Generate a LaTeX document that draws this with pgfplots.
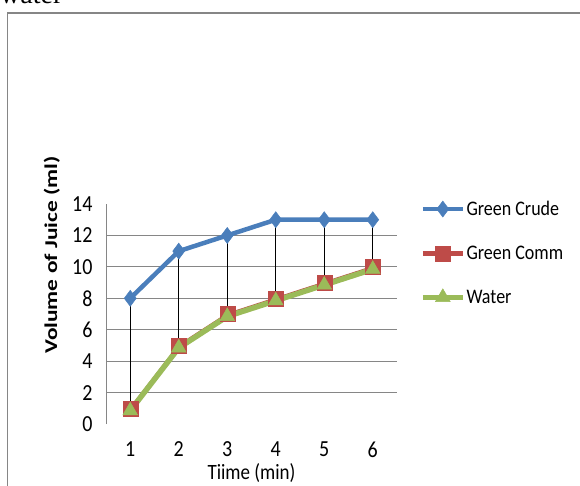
\documentclass[border=0pt]{standalone}
\usepackage{pgfplots}
\usepackage{pgfplotstable}
\usepackage{graphicx}
\usepackage{fontspec}
\setmainfont{Carlito}
\newfontfamily\serifface{Liberation Serif}
\pgfplotsset{compat=1.18}

\definecolor{crudeblue}{HTML}{4A7EBB}
\definecolor{commred}{HTML}{BE4B48}
\definecolor{watergreen}{HTML}{9BBB59}
\definecolor{gridgray}{HTML}{868686}

% slightly tall lettering
\newcommand\tall[1]{\scalebox{1}[1.15]{#1}}

\pgfplotstableread{
t  crude comm water
1  8     1    0.85
2  11    5    4.85
3  12    7    6.85
4  13    8    7.85
5  13    9    8.85
6  13    10   9.85
}\juicedata

\begin{document}
\begin{tikzpicture}
\useasboundingbox (0bp,0bp) rectangle (580bp,-486bp);
\clip (0bp,0bp) rectangle (580bp,-486bp);

% caption fragment and frame
\node[anchor=base west, inner sep=0pt, font=\serifface\fontsize{28bp}{32bp}\selectfont] at (0bp,-3.5bp) {water};
\draw[gridgray, line width=1.2bp] (7.5bp,-520bp) -- (7.5bp,-13bp) -- (620bp,-13bp);

\begin{axis}[
  at={(106bp,-424bp)}, anchor=south west,
  scale only axis, width=291bp, height=220bp,
  xmin=0.5, xmax=6.5, ymin=0, ymax=14,
  xtick={1,...,6}, ytick={2,4,...,12},
  extra y ticks={0,14},
  extra y tick style={grid=none},
  axis x line*=bottom, axis y line*=left,
  x axis line style={draw=none},
  y axis line style={draw=gridgray, line width=0.8bp, -},
  major tick length=0pt,
  ymajorgrids,
  grid style={gridgray, line width=0.9bp},
  /pgf/number format/assume math mode=true,
  xticklabel={\tall{\pgfmathprintnumber{\tick}}},
  yticklabel={\tall{\pgfmathprintnumber{\tick}}},
  ticklabel style={font=\fontsize{20bp}{24bp}\selectfont},
  xticklabel style={yshift=-14bp},
  yticklabel style={xshift=-10bp},
  xlabel={\tall{Tiime (min)}},
  xlabel style={at={(axis description cs:0.5,-0.222)}, anchor=center, font=\fontsize{19bp}{23bp}\selectfont},
  ylabel={\scalebox{1.3}[1]{\bfseries Volume of Juice (ml)}},
  ylabel style={at={(axis description cs:-0.186,0.768)}, anchor=center, font=\fontsize{18bp}{22bp}\selectfont},
  legend style={at={(axis description cs:1.07,1.03)}, anchor=north west,
    draw=none, fill=none, font=\fontsize{18bp}{22bp}\selectfont,
    row sep=26bp, nodes={inner sep=1.5bp}},
  legend cell align=left,
  legend image code/.code={%
    \draw[mark repeat=2, mark phase=2, #1, line width=4.5bp] plot coordinates {(0bp,0bp) (20bp,0bp) (40bp,0bp)};},
  clip=false,
]
\addplot[crudeblue, line width=4.5bp, mark=diamond*, mark size=8bp,
  mark options={solid, fill=crudeblue, draw=crudeblue, line width=0.5bp}]
  table[x=t, y=crude] {\juicedata};
\addlegendentry{\tall{Green Crude}}
\addplot[commred, line width=2bp, mark=square*, mark size=7.5bp,
  mark options={solid, fill=commred, draw=commred, line width=0.5bp}]
  table[x=t, y=comm] {\juicedata};
\addlegendentry{\tall{Green Comm}}
\addplot[watergreen, line width=5.5bp, mark=triangle*, mark size=8.5bp,
  mark options={solid, fill=watergreen, draw=watergreen, line width=0.5bp}]
  table[x=t, y=water] {\juicedata};
\addlegendentry{\tall{Water}}
% high-low lines from the crude reading down to the commercial one
\addplot[draw=none, mark=none, forget plot,
  error bars/.cd, y dir=minus, y explicit, error mark=none,
  error bar style={black, line width=1bp}]
  table[x=t, y=crude, y error minus expr=\thisrow{crude}-\thisrow{comm}] {\juicedata};
\end{axis}
\end{tikzpicture}
\end{document}
